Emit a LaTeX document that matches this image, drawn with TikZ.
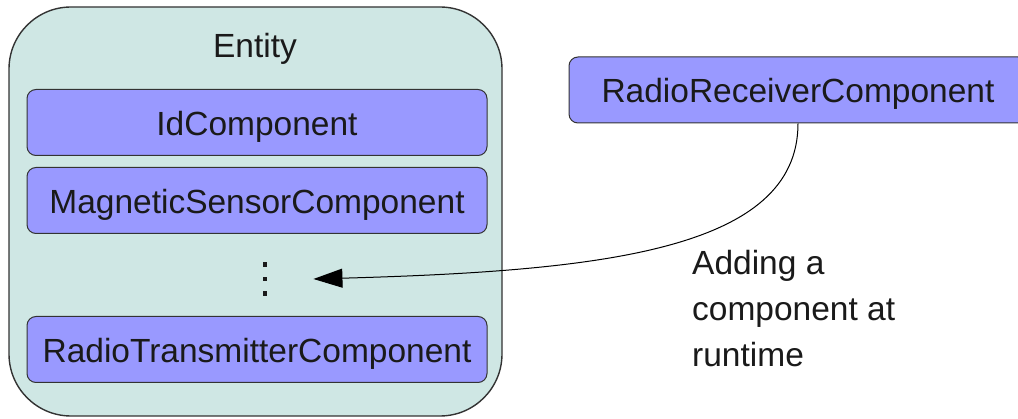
\documentclass[tikz,border=0pt]{standalone}
\usepackage{fontspec}
\setmainfont{Liberation Sans}
\usetikzlibrary{arrows.meta}
\definecolor{entityfill}{RGB}{207,231,228}
\definecolor{compfill}{RGB}{153,153,255}
\definecolor{edge}{RGB}{51,51,51}
\definecolor{ink}{RGB}{26,26,26}
\begin{document}
\begin{tikzpicture}[x=1pt,y=-1pt,
  every node/.style={font=\fontsize{33.5}{46}\selectfont, text=ink},
  entitybox/.style={draw=edge, line width=1.4pt, fill=entityfill,
    rounded corners=62pt, minimum width=493pt, minimum height=409pt, inner sep=0pt},
  compbox/.style={draw=edge, line width=1pt, fill=compfill, rounded corners=9pt,
    minimum height=66pt, inner sep=0pt, text height=26pt, text depth=0pt},
  dotsq/.style={fill=ink, minimum size=4.5pt, inner sep=0pt}
]
\useasboundingbox (0,0) rectangle (1018,419);
\clip (0,0) rectangle (1018,419);
\fill[white] (0,0) rectangle (1018,419);

% container entity with its components
\node[entitybox] (entity) at (255.5,211.5) {};
\node[anchor=base] (title) at (255,58) {Entity};
\node[compbox, minimum width=460pt] (id)  at (257,122.5) {IdComponent};
\node[compbox, minimum width=460pt] (mag) at (257,200.5) {MagneticSensorComponent};
\node[compbox, minimum width=460pt] (rt)  at (257,349.5) {RadioTransmitterComponent};

% vertical ellipsis marking further components
\node[minimum width=4.5pt, minimum height=29pt, inner sep=0pt] (more) at (265,279) {};
\node[dotsq] at (more.north) {};
\node[dotsq] at (more.center) {};
\node[dotsq] at (more.south) {};

% component that is added later
\node[compbox, minimum width=458pt] (rr) at (798,90) {RadioReceiverComponent};

\draw[black, line width=1pt, -{Triangle[length=29pt,width=19pt]}]
  (rr.south) .. controls +(0,127) and +(287,-8) .. ([xshift=46pt]more.east);

\node[anchor=north west, align=left, inner sep=0pt] (note) at (692,250.5)
  {Adding a\\component at\\runtime};
\end{tikzpicture}
\end{document}
